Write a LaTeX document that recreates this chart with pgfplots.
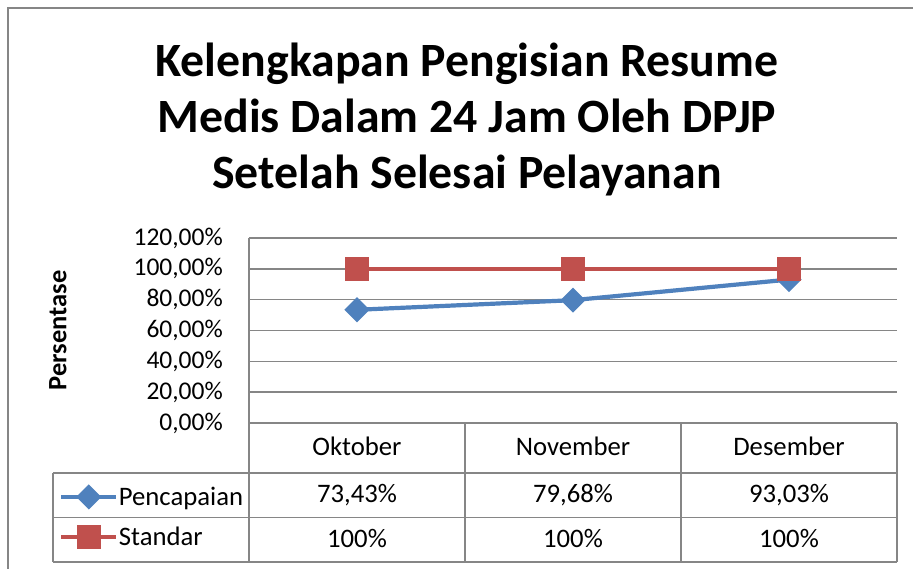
\documentclass[border=0pt]{standalone}
\usepackage{pgfplots}
\pgfplotsset{compat=1.18}
\usepackage{fontspec}
\setmainfont{Carlito}
\definecolor{seriesblue}{RGB}{79,129,189}
\definecolor{seriesred}{RGB}{192,80,77}
\definecolor{gridgray}{RGB}{134,134,134}
\newcommand{\tickfont}{\fontsize{25.5}{30}\selectfont}
\newcommand{\tablefont}{\fontsize{26.7}{31}\selectfont}
\begin{document}
\begin{tikzpicture}[x=1pt,y=-1pt]
\useasboundingbox (0,0) rectangle (913,569);
% outer chart border (only top and left visible)
\draw[gridgray, line width=2pt] (7.5,580) -- (7.5,8.5) -- (925,8.5);
% title
\node[anchor=base, font=\fontsize{47.8}{56}\selectfont\bfseries] at (467,77) {Kelengkapan Pengisian Resume};
\node[anchor=base, font=\fontsize{47.8}{56}\selectfont\bfseries] at (467,133) {Medis Dalam 24 Jam Oleh DPJP};
\node[anchor=base, font=\fontsize{47.8}{56}\selectfont\bfseries] at (467,189) {Setelah Selesai Pelayanan};

\begin{axis}[
  at={(249pt,-423pt)}, anchor=south west,
  scale only axis, width=648pt, height=185pt,
  xmin=-0.5, xmax=2.5, ymin=0, ymax=120,
  xtick={0,1,2}, xticklabels={Oktober,November,Desember},
  ytick={0,20,...,120},
  major tick length=0pt,
  axis x line=none,
  axis y line*=left,
  y axis line style={gridgray, line width=1.5pt, -},
  ymajorgrids,
  grid style={gridgray, line width=1.5pt},
  yticklabel={\pgfmathprintnumber[fixed,fixed zerofill,precision=2,use comma,assume math mode=true]{\tick}\%},
  yticklabel style={font=\tickfont, inner sep=0pt, anchor=east, xshift=-26pt},
  ylabel={Persentase},
  ylabel style={font=\fontsize{26.5}{30}\selectfont\bfseries, at={(axis description cs:-0.2948,0.5)}, anchor=center},
  legend style={at={(axis description cs:-0.2932,-0.508)}, anchor=west, draw=none, fill=none,
    inner sep=0pt, font=\tablefont, row sep=19pt,
    nodes={inner sep=0.5pt}},
  legend cell align=left,
  legend image code/.code={\draw[mark repeat=2,mark phase=2,#1] plot coordinates {(0pt,0pt) (27.5pt,0pt) (55pt,0pt)};},
]
\addplot[seriesblue, line width=4.2pt, mark=square*, mark size=6.8pt, mark options={rotate=45, solid, fill=seriesblue}]
  coordinates {(0,73.43) (1,79.68) (2,93.03)};
\addlegendentry{Pencapaian}
\addplot[seriesred, line width=4.2pt, mark=square*, mark size=10pt, mark options={solid, fill=seriesred}]
  coordinates {(0,100) (1,100) (2,100)};
\addlegendentry{Standar}
\end{axis}

% data table
\draw[gridgray, line width=1.5pt]
  (53,473) -- (897,473) (53,517.5) -- (897,517.5) (53,562) -- (897,562)
  (53,473) -- (53,562) (249,423) -- (249,562) (465,423) -- (465,562)
  (681,423) -- (681,562) (897,423) -- (897,562);
\node[anchor=base, font=\tablefont] at (357,455) {Oktober};
\node[anchor=base, font=\tablefont] at (573,455) {November};
\node[anchor=base, font=\tablefont] at (789,455) {Desember};
\node[anchor=base, font=\tablefont] at (357,502) {73,43\%};
\node[anchor=base, font=\tablefont] at (573,502) {79,68\%};
\node[anchor=base, font=\tablefont] at (789,502) {93,03\%};
\node[anchor=base, font=\tablefont] at (357,547) {100\%};
\node[anchor=base, font=\tablefont] at (573,547) {100\%};
\node[anchor=base, font=\tablefont] at (789,547) {100\%};
\end{tikzpicture}
\end{document}
